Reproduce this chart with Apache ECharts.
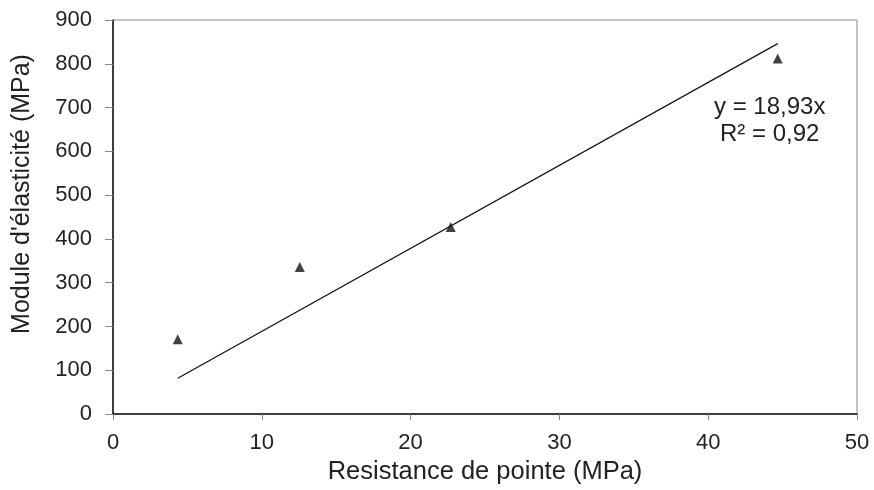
<!DOCTYPE html>
<html>
<head>
<meta charset="utf-8">
<script src="https://cdn.jsdelivr.net/npm/echarts@6/dist/echarts.min.js"></script>
<style>html,body{margin:0;padding:0;background:#fff}#c{width:874px;height:490px}</style>
</head>
<body>
<div id="c"></div>
<script>
const pointX = [4.35, 12.55, 22.7, 44.67];
const pointY = [171, 336, 427, 812];
const trendX = [4.35, 44.67];
const trendY = [82, 846];
const xTicks = [0, 10, 20, 30, 40, 50];
const yTicks = [0, 100, 200, 300, 400, 500, 600, 700, 800, 900];
const equationText = 'y = 18,93x';
const r2Text = 'R² = 0,92';
const xTitle = 'Resistance de pointe (MPa)';
const yTitle = "Module d'élasticité (MPa)";

const chart = echarts.init(document.getElementById('c'), null, {renderer: 'canvas'});
const font = 'Liberation Sans, Arial, sans-serif';
chart.setOption({
  animation: false,
  backgroundColor: '#fff',
  grid: {left: 113, top: 20, right: 17, bottom: 73, show: true, borderColor: '#888', borderWidth: 1},
  xAxis: {
    type: 'value', min: xTicks[0], max: xTicks[xTicks.length - 1], interval: 10,
    name: xTitle, nameLocation: 'middle', nameGap: 34,
    nameTextStyle: {fontFamily: font, fontSize: 25.5, color: '#222'},
    axisLine: {lineStyle: {color: '#111', width: 1.5}},
    axisTick: {show: true, length: 6, lineStyle: {color: '#888'}},
    axisLabel: {fontFamily: font, fontSize: 22, color: '#222', margin: 18},
    splitLine: {show: false}
  },
  yAxis: {
    type: 'value', min: yTicks[0], max: yTicks[yTicks.length - 1], interval: 100,
    axisLine: {show: true, lineStyle: {color: '#111', width: 1.5}},
    axisTick: {show: true, length: 8, lineStyle: {color: '#888'}},
    axisLabel: {fontFamily: font, fontSize: 22, color: '#222', margin: 21},
    splitLine: {show: false}
  },
  series: [
    {
      type: 'line', data: trendX.map((x, i) => [x, trendY[i]]),
      showSymbol: false, symbol: 'none',
      lineStyle: {color: '#111', width: 1.2}, z: 2
    },
    {
      type: 'scatter', data: pointX.map((x, i) => [x, pointY[i]]),
      symbol: 'triangle', symbolSize: [10, 10],
      itemStyle: {color: '#111'}, z: 3
    }
  ],
  graphic: [
    {type: 'text', left: 714, top: 95, style: {text: equationText, font: '24px ' + font, fill: '#222'}},
    {type: 'text', left: 720, top: 122, style: {text: r2Text, font: '24px ' + font, fill: '#222'}},
    {type: 'text', x: 22, y: 194, rotation: Math.PI / 2,
     style: {text: yTitle, font: '25px ' + font, fill: '#222', align: 'center', verticalAlign: 'middle'}}
  ]
});
</script>
</body>
</html>
